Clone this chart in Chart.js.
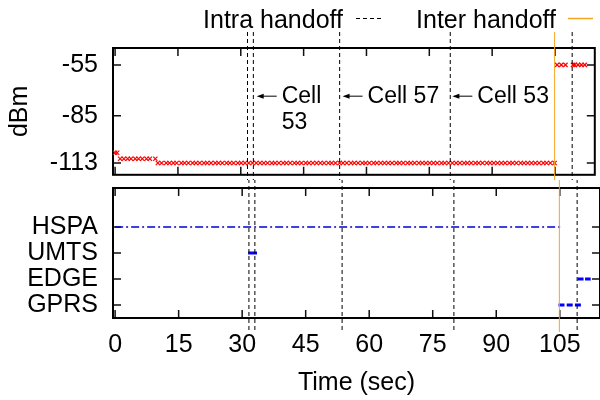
<!DOCTYPE html>
<html>
<head>
<meta charset="utf-8">
<script src="https://cdn.jsdelivr.net/npm/chart.js@4/dist/chart.umd.min.js"></script>
<style>
  body { margin: 0; background: #fff; }
  #wrap { position: relative; width: 600px; height: 400px; }
  canvas { position: absolute; left: 0; }
</style>
</head>
<body>
<div id="wrap">
  <canvas id="rssi" width="600" height="180" style="top:0"></canvas>
  <canvas id="tech" width="600" height="220" style="top:180px"></canvas>
</div>
<script>
const FONT = '"Liberation Sans", Arial, Helvetica, sans-serif'

// axes
const xTicks = [0, 15, 30, 45, 60, 75, 90, 105]
const dbmTicks = [-113, -85, -55]
const techLabels = ['GPRS', 'EDGE', 'UMTS', 'HSPA']

// handoff times (sec)
const intraHandoffs = [31.6, 33.0, 53.6, 80.0, 109.1]
const interHandoffs = [104.9]

// cell annotations
const cellNoteTimes = [33.8, 54.3, 80.5]
const cellNoteLines = [['Cell', '53'], ['Cell 57'], ['Cell 53']]
const cellNoteDbm = -73.5

// signal strength samples, one time list per level
const rssiLevels = [-107, -110.5, -113, -55]
const rssiTimeGroups = [
  [0, 0.5],
  [1.2, 2.1, 3.0, 3.8, 4.8, 5.6, 6.5, 7.5, 8.3, 9.6],
  [10.2, 11.1, 12.2, 13.0, 13.9, 14.7, 15.8, 16.6, 17.5, 18.5,
   19.3, 20.2, 21.2, 22.0, 22.9, 23.9, 24.7, 25.6, 26.6, 27.4,
   28.3, 29.3, 30.1, 31.0, 31.9, 32.8, 33.7, 34.6, 35.5, 36.4,
   37.4, 38.2, 39.1, 40.1, 40.9, 41.8, 42.8, 43.6, 44.5, 45.5,
   46.3, 47.2, 48.1, 49.0, 49.9, 50.9, 51.7, 52.6, 53.6, 54.4,
   55.3, 56.3, 57.1, 58.0, 59.0, 59.8, 60.7, 61.7, 62.5, 63.4,
   64.3, 65.2, 66.1, 67.1, 67.9, 68.8, 69.8, 70.6, 71.5, 72.5,
   73.3, 74.2, 75.1, 76.0, 76.9, 77.9, 78.7, 79.6, 80.5, 81.4,
   82.3, 83.3, 84.1, 85.0, 86.0, 86.8, 87.7, 88.7, 89.5, 90.4,
   91.3, 92.2, 93.1, 94.1, 94.9, 95.8, 96.8, 97.6, 98.5, 99.4,
   100.3, 101.2, 102.2, 103.0, 103.9, 104.9],
  [105.5, 106.5, 107.5, 109.3, 109.7, 110.5, 111.3, 112.1]
]

// network technology periods (start, end)
const hspaTimes = [0, 105.2]
const umtsTimes = [31.4, 33.5]
const gprsTimes = [104.7, 110.0]
const edgeTimes = [109.2, 112.3]

const rssiPoints = rssiTimeGroups.flatMap((ts, g) => ts.map(t => ({x: t, y: rssiLevels[g]})))
const techPoints = (times, name) => times.map(t => ({x: t, y: techLabels.indexOf(name) + 1}))

const ORANGE = '#f5a623'

// gnuplot style box with inward ticks on all sides
const frame = {
  id: 'frame',
  beforeDatasetsDraw(chart) {
    const {ctx, chartArea: a, scales} = chart
    ctx.save()
    ctx.strokeStyle = '#111'
    ctx.lineWidth = 1.5
    ctx.beginPath()
    scales.x.ticks.forEach(t => {
      const px = scales.x.getPixelForValue(t.value)
      ctx.moveTo(px, a.top); ctx.lineTo(px, a.top + 8)
      ctx.moveTo(px, a.bottom); ctx.lineTo(px, a.bottom - 8)
    })
    scales.y.ticks.forEach(t => {
      const py = scales.y.getPixelForValue(t.value)
      ctx.moveTo(a.left, py); ctx.lineTo(a.left + 8, py)
      ctx.moveTo(a.right, py); ctx.lineTo(a.right - 8, py)
    })
    ctx.stroke()
    ctx.strokeStyle = '#000'
    ctx.lineWidth = 2
    ctx.strokeRect(a.left, a.top, a.right - a.left, a.bottom - a.top)
    ctx.restore()
  }
}

const handoffs = {
  id: 'handoffs',
  afterDatasetsDraw(chart, args, opts) {
    const {ctx, scales} = chart
    ctx.save()
    ctx.lineWidth = 1
    ctx.strokeStyle = '#000'
    ctx.setLineDash([4, 3])
    ctx.lineDashOffset = opts.dashOffset
    intraHandoffs.forEach(t => {
      const px = scales.x.getPixelForValue(t)
      ctx.beginPath(); ctx.moveTo(px, opts.from); ctx.lineTo(px, opts.to); ctx.stroke()
    })
    ctx.setLineDash([])
    ctx.strokeStyle = ORANGE
    interHandoffs.forEach(t => {
      const px = scales.x.getPixelForValue(t)
      ctx.beginPath(); ctx.moveTo(px, opts.from); ctx.lineTo(px, opts.to); ctx.stroke()
    })
    ctx.restore()
  }
}

// key at the top and the cell labels
const rssiDecor = {
  id: 'rssiDecor',
  afterDraw(chart) {
    const {ctx, scales} = chart
    ctx.save()
    ctx.fillStyle = '#000'
    ctx.font = '25px ' + FONT
    ctx.textAlign = 'right'
    ctx.textBaseline = 'alphabetic'
    ctx.fillText('Intra handoff', 343, 28)
    ctx.fillText('Inter handoff', 556, 28)
    ctx.lineWidth = 1
    ctx.strokeStyle = '#000'
    ctx.setLineDash([4, 3])
    ctx.beginPath(); ctx.moveTo(356, 18.5); ctx.lineTo(381, 18.5); ctx.stroke()
    ctx.setLineDash([])
    ctx.strokeStyle = ORANGE
    ctx.lineWidth = 1.5
    ctx.beginPath(); ctx.moveTo(568, 18.5); ctx.lineTo(593, 18.5); ctx.stroke()

    ctx.font = '23px ' + FONT
    ctx.textAlign = 'left'
    ctx.textBaseline = 'middle'
    ctx.strokeStyle = '#000'
    ctx.lineWidth = 1
    const py = scales.y.getPixelForValue(cellNoteDbm)
    cellNoteTimes.forEach((t, i) => {
      const px = scales.x.getPixelForValue(t)
      ctx.beginPath(); ctx.moveTo(px + 4, py); ctx.lineTo(px + 20, py); ctx.stroke()
      ctx.beginPath(); ctx.moveTo(px, py); ctx.lineTo(px + 7, py - 2.5); ctx.lineTo(px + 7, py + 2.5); ctx.closePath(); ctx.fill()
      cellNoteLines[i].forEach((line, k) => ctx.fillText(line, px + 25, py + k * 26))
    })
    ctx.restore()
  }
}

const tickFont = {family: FONT, size: 25}

// keep the label padding from pushing the plot box around
const fixWidth = s => { s.width = 113; s.paddingTop = 0; s.paddingBottom = 0 }

new Chart(document.getElementById('rssi'), {
  type: 'scatter',
  data: {
    datasets: [{
      data: rssiPoints,
      pointStyle: 'crossRot',
      pointRadius: 3,
      borderColor: '#ff0000',
      backgroundColor: '#ff0000',
      borderWidth: 1.2,
      clip: false
    }]
  },
  options: {
    responsive: false,
    animation: false,
    layout: {padding: {top: 48, left: 0, right: 0, bottom: 0}},
    plugins: {
      legend: {display: false},
      tooltip: {enabled: false},
      handoffs: {from: 32, to: 180, dashOffset: 0}
    },
    scales: {
      x: {
        type: 'linear', min: -0.5, max: 114.5,
        afterBuildTicks: s => { s.ticks = xTicks.map(v => ({value: v})) },
        ticks: {display: false},
        grid: {display: false, drawTicks: false},
        border: {display: false},
        afterFit: s => { s.height = 3; s.paddingLeft = 0; s.paddingRight = 0 }
      },
      y: {
        min: -120, max: -45,
        afterBuildTicks: s => { s.ticks = dbmTicks.map(v => ({value: v})) },
        ticks: {font: tickFont, color: '#000', padding: 15},
        grid: {display: false, drawTicks: false},
        border: {display: false},
        title: {display: true, text: 'dBm', font: tickFont, color: '#000', padding: {top: 5, bottom: 0}},
        afterFit: fixWidth
      }
    }
  },
  plugins: [frame, handoffs, rssiDecor]
})

new Chart(document.getElementById('tech'), {
  type: 'scatter',
  data: {
    datasets: [
      {data: techPoints(hspaTimes, 'HSPA'), showLine: true, pointRadius: 0, borderColor: '#0000dd', borderWidth: 1.5, borderDash: [8, 3, 2, 3]},
      {data: techPoints(umtsTimes, 'UMTS'), showLine: true, pointRadius: 0, borderColor: '#0000ff', borderWidth: 3},
      {data: techPoints(gprsTimes, 'GPRS'), showLine: true, pointRadius: 0, borderColor: '#0000ff', borderWidth: 3, borderDash: [6, 2.2]},
      {data: techPoints(edgeTimes, 'EDGE'), showLine: true, pointRadius: 0, borderColor: '#0000ff', borderWidth: 3, borderDash: [6, 1.5]}
    ]
  },
  options: {
    responsive: false,
    animation: false,
    layout: {padding: {top: 8, left: 0, right: 0, bottom: 0}},
    plugins: {
      legend: {display: false},
      tooltip: {enabled: false},
      handoffs: {from: 0, to: 152, dashOffset: 148}
    },
    scales: {
      x: {
        type: 'linear', min: -0.5, max: 114.5,
        afterBuildTicks: s => { s.ticks = xTicks.map(v => ({value: v})) },
        ticks: {font: tickFont, color: '#000', padding: 12, maxRotation: 0},
        grid: {display: false, drawTicks: false},
        border: {display: false},
        title: {display: true, text: 'Time (sec)', font: tickFont, color: '#000', padding: {top: 0, bottom: 2}},
        afterFit: s => { s.height = 82; s.paddingLeft = 0; s.paddingRight = 0 }
      },
      y: {
        min: 0.5, max: 5.5,
        afterBuildTicks: s => { s.ticks = techLabels.map((l, i) => ({value: i + 1})) },
        ticks: {font: tickFont, color: '#000', padding: 15, callback: v => techLabels[v - 1]},
        grid: {display: false, drawTicks: false},
        border: {display: false},
        afterFit: fixWidth
      }
    }
  },
  plugins: [frame, handoffs]
})
</script>
</body>
</html>
